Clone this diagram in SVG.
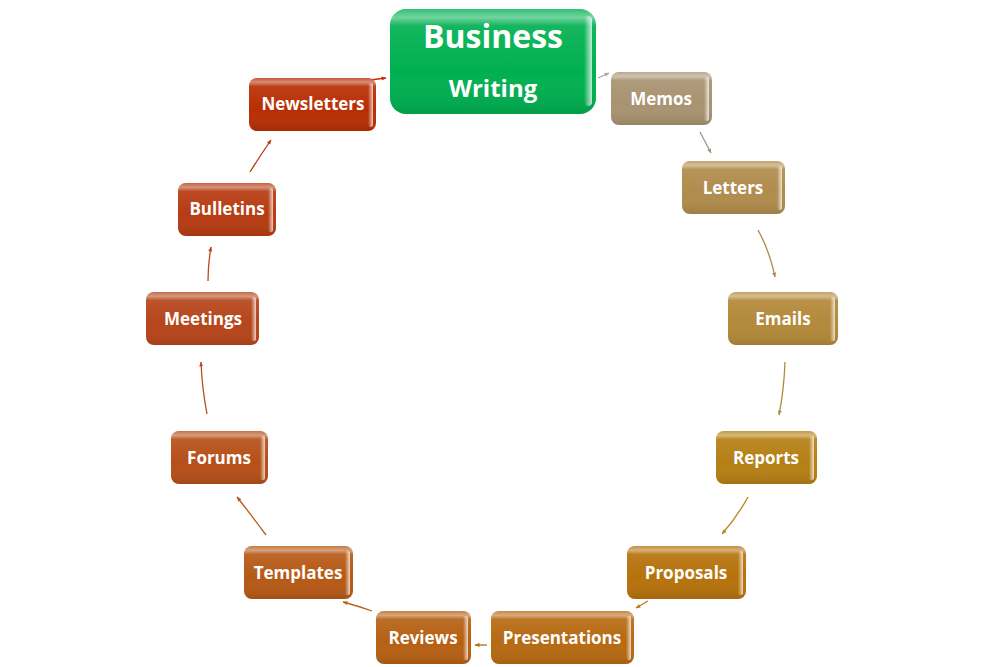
<svg xmlns="http://www.w3.org/2000/svg" width="985" height="667" viewBox="0 0 985 667">
<defs>
<linearGradient id="gloss" x1="0" y1="0" x2="0" y2="1">
<stop offset="0" stop-color="#fff" stop-opacity="0.2"/>
<stop offset="0.08" stop-color="#fff" stop-opacity="0.45"/>
<stop offset="0.16" stop-color="#fff" stop-opacity="0.08"/>
<stop offset="0.6" stop-color="#fff" stop-opacity="0"/>
<stop offset="1" stop-color="#000" stop-opacity="0.1"/>
</linearGradient>
<linearGradient id="edge" x1="0" y1="0" x2="1" y2="0">
<stop offset="0" stop-color="#fff" stop-opacity="0"/>
<stop offset="1" stop-color="#fff" stop-opacity="0.75"/>
</linearGradient>
<marker id="ah" viewBox="0 0 10 10" refX="9" refY="5" markerWidth="5" markerHeight="5" orient="auto" markerUnits="userSpaceOnUse">
<path d="M0,1 L10,5 L0,9 z" fill="context-stroke"/>
</marker>
</defs>
<style>
.box{stroke:none}
.gl{fill:url(#gloss)}
.ed{fill:url(#edge)}
.lbl{font-family:"Open Sans","Liberation Sans",sans-serif;font-weight:bold;font-size:17px;fill:#fff;text-anchor:middle}
.big{font-family:"Open Sans","Liberation Sans",sans-serif;font-weight:bold;fill:#fff;text-anchor:middle}
.c{fill:none;stroke-width:1.3;marker-end:url(#ah)}
</style>
<rect width="985" height="667" fill="#fff"/>
<g id="connectors">
<path class="c" stroke="#a8a8a0" d="M598,78 L609,73"/>
<path class="c" stroke="#a09680" d="M700,132 L711,153"/>
<path class="c" stroke="#b0884a" d="M758,230 Q770,252 775,277"/>
<path class="c" stroke="#b08a40" d="M785,362 Q784,390 779,415"/>
<path class="c" stroke="#b88420" d="M748,497 Q737,517 722,534"/>
<path class="c" stroke="#b87a10" d="M648,601 L636,608"/>
<path class="c" stroke="#b86a14" d="M487,645 L475,645"/>
<path class="c" stroke="#b86218" d="M372,611 Q358,606 343,602"/>
<path class="c" stroke="#b85a18" d="M266,535 Q252,516 237,497"/>
<path class="c" stroke="#b8501a" d="M207,414 Q202,388 201,362"/>
<path class="c" stroke="#b8461c" d="M208,281 Q208,264 211,247"/>
<path class="c" stroke="#b83c10" d="M250,172 Q260,156 271,140"/>
<path class="c" stroke="#c03008" d="M370,80 L386,78"/>
</g>
<g id="n-business">
<rect class="box" x="390" y="9" width="206" height="105" rx="16" fill="#00b050"/>
<rect x="390" y="9" width="206" height="105" rx="16" class="gl"/>
<rect x="584" y="16" width="8" height="90" rx="4" class="ed"/>
<text class="big" x="493" y="48" font-size="32">Business</text>
<text class="big" x="493" y="97" font-size="24">Writing</text>
</g>
<g id="n-memos">
<rect class="box" x="611" y="72" width="101" height="53" rx="8" fill="#a89371"/>
<rect x="611" y="72" width="101" height="53" rx="8" class="gl"/>
<rect x="704" y="77" width="5" height="44" rx="2" class="ed"/>
<text class="lbl" x="661" y="105">Memos</text>
</g>
<g id="n-letters">
<rect class="box" x="682" y="161" width="103" height="53" rx="8" fill="#b08c4c"/>
<rect x="682" y="161" width="103" height="53" rx="8" class="gl"/>
<rect x="777" y="166" width="5" height="44" rx="2" class="ed"/>
<text class="lbl" x="733" y="194">Letters</text>
</g>
<g id="n-emails">
<rect class="box" x="728" y="292" width="110" height="53" rx="8" fill="#b3893a"/>
<rect x="728" y="292" width="110" height="53" rx="8" class="gl"/>
<rect x="830" y="297" width="5" height="44" rx="2" class="ed"/>
<text class="lbl" x="783" y="325">Emails</text>
</g>
<g id="n-reports">
<rect class="box" x="716" y="431" width="101" height="53" rx="8" fill="#b57f14"/>
<rect x="716" y="431" width="101" height="53" rx="8" class="gl"/>
<rect x="809" y="436" width="5" height="44" rx="2" class="ed"/>
<text class="lbl" x="766" y="464">Reports</text>
</g>
<g id="n-proposals">
<rect class="box" x="627" y="546" width="119" height="53" rx="8" fill="#b6720c"/>
<rect x="627" y="546" width="119" height="53" rx="8" class="gl"/>
<rect x="738" y="551" width="5" height="44" rx="2" class="ed"/>
<text class="lbl" x="686" y="579">Proposals</text>
</g>
<g id="n-presentations">
<rect class="box" x="491" y="611" width="143" height="53" rx="8" fill="#b66a12"/>
<rect x="491" y="611" width="143" height="53" rx="8" class="gl"/>
<rect x="626" y="616" width="5" height="44" rx="2" class="ed"/>
<text class="lbl" x="562" y="644">Presentations</text>
</g>
<g id="n-reviews">
<rect class="box" x="376" y="611" width="95" height="53" rx="8" fill="#b66014"/>
<rect x="376" y="611" width="95" height="53" rx="8" class="gl"/>
<rect x="463" y="616" width="5" height="44" rx="2" class="ed"/>
<text class="lbl" x="423" y="644">Reviews</text>
</g>
<g id="n-templates">
<rect class="box" x="244" y="546" width="109" height="53" rx="8" fill="#b65916"/>
<rect x="244" y="546" width="109" height="53" rx="8" class="gl"/>
<rect x="345" y="551" width="5" height="44" rx="2" class="ed"/>
<text class="lbl" x="298" y="579">Templates</text>
</g>
<g id="n-forums">
<rect class="box" x="171" y="431" width="97" height="53" rx="8" fill="#b64f18"/>
<rect x="171" y="431" width="97" height="53" rx="8" class="gl"/>
<rect x="260" y="436" width="5" height="44" rx="2" class="ed"/>
<text class="lbl" x="219" y="464">Forums</text>
</g>
<g id="n-meetings">
<rect class="box" x="146" y="292" width="113" height="53" rx="8" fill="#b6451a"/>
<rect x="146" y="292" width="113" height="53" rx="8" class="gl"/>
<rect x="251" y="297" width="5" height="44" rx="2" class="ed"/>
<text class="lbl" x="203" y="325">Meetings</text>
</g>
<g id="n-bulletins">
<rect class="box" x="178" y="183" width="98" height="53" rx="8" fill="#b63b12"/>
<rect x="178" y="183" width="98" height="53" rx="8" class="gl"/>
<rect x="268" y="188" width="5" height="44" rx="2" class="ed"/>
<text class="lbl" x="227" y="215">Bulletins</text>
</g>
<g id="n-newsletters">
<rect class="box" x="249" y="78" width="127" height="53" rx="8" fill="#b82e04"/>
<rect x="249" y="78" width="127" height="53" rx="8" class="gl"/>
<rect x="368" y="83" width="5" height="44" rx="2" class="ed"/>
<text class="lbl" x="313" y="110">Newsletters</text>
</g>
</svg>
